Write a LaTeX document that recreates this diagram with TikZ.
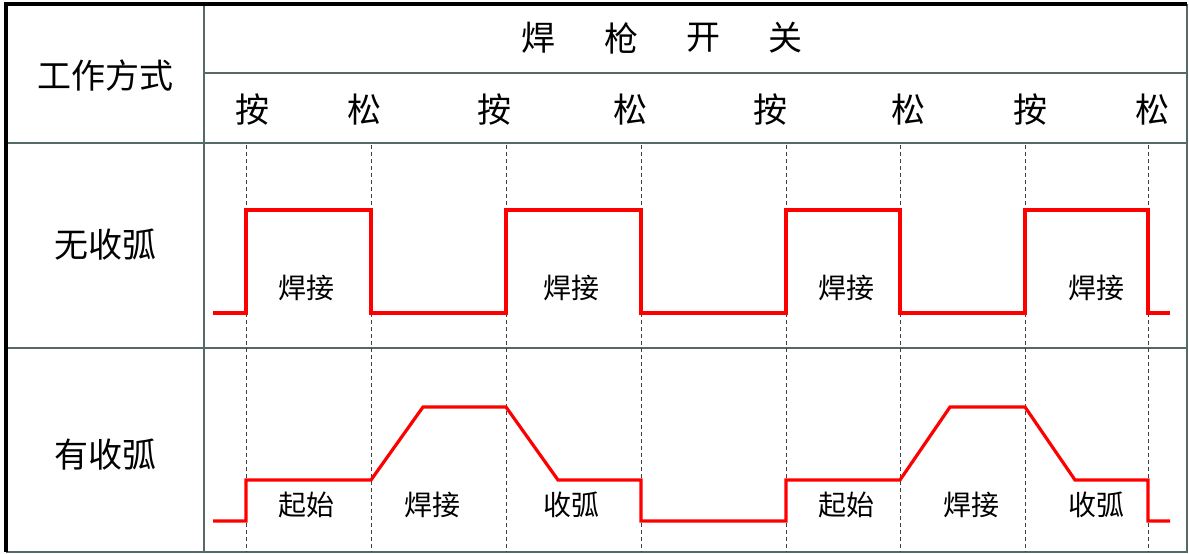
\documentclass[tikz,border=0pt]{standalone}
\usepackage{fontspec}
\newfontfamily\cjk{Noto Sans CJK SC}
\definecolor{gridc}{RGB}{85,105,105}
\definecolor{sig}{RGB}{255,0,0}
\tikzset{
  grid/.style={draw=gridc, line width=1.6pt},
  frame/.style={draw=black, line width=3.5pt},
  guide/.style={draw=black!75, line width=0.8pt, dash pattern=on 4pt off 3pt},
  wave/.style={draw=sig, line width=3.2pt, line join=miter},
  big/.style={font=\cjk\fontsize{34}{34}\selectfont, inner sep=0pt},
  small/.style={font=\cjk\fontsize{28}{28}\selectfont, inner sep=0pt}
}
\begin{document}
\begin{tikzpicture}[x=1pt,y=-1pt]
\useasboundingbox (0,0) rectangle (1189,554);
% grid
\coordinate (tl) at (6,4);
\coordinate (tr) at (1187,4);
\coordinate (bl) at (6,552);
\coordinate (br) at (1187,552);
\draw[grid] (204,4) -- (204,552);
\draw[grid] (204,73) -- (1187,73);
\draw[grid] (6,143) -- (1187,143);
\draw[grid] (6,348) -- (1187,348);
\draw[grid] (bl) -- (br) -- (tr);
\draw[frame] (bl) -- (tl) -- (tr);
% guides
\foreach \x [count=\i] in {246,371,506,641,786,900,1025,1148} {
  \coordinate (g\i t) at (\x,145);
  \coordinate (g\i b) at (\x,552);
  \draw[guide] (g\i t) -- (g\i b);
}
% headers
\node[big] (mode) at (105,76) {工作方式};
\node[big] (h1) at (538,38) {焊};
\node[big] (h2) at (621,38) {枪};
\node[big] (h3) at (703,38) {开};
\node[big] (h4) at (785,38) {关};
\foreach \x/\t [count=\i] in {252/按,364/松,494/按,630/松,770/按,908/松,1030/按,1152/松} {
  \node[big] (k\i) at (\x,110) {\t};
}
\node[big] (r1) at (105,245) {无收弧};
\node[big] (r2) at (105,455) {有收弧};
% row 1 waveform
\coordinate (a0) at (213,313);
\draw[wave] (a0) -- (246,313) -- (246,210) -- (371,210) -- (371,313) -- (506,313) -- (506,210)
  -- (641,210) -- (641,313) -- (786,313) -- (786,210) -- (900,210) -- (900,313) -- (1025,313)
  -- (1025,210) -- (1148,210) -- (1148,313) -- (1170,313);
\node[small] (w1) at (306,288) {焊接};
\node[small] (w2) at (571,288) {焊接};
\node[small] (w3) at (846,288) {焊接};
\node[small] (w4) at (1096,288) {焊接};
% row 2 waveform
\coordinate (b0) at (213,521);
\draw[wave] (b0) -- (246,521) -- (246,480) -- (371,480) -- (423,407) -- (506,407) -- (558,480)
  -- (641,480) -- (641,521) -- (786,521) -- (786,480) -- (900,480) -- (950,407) -- (1025,407)
  -- (1075,480) -- (1148,480) -- (1148,521) -- (1170,521);
\node[small] (s1) at (306,505) {起始};
\node[small] (s2) at (432,505) {焊接};
\node[small] (s3) at (571,505) {收弧};
\node[small] (s4) at (846,505) {起始};
\node[small] (s5) at (971,505) {焊接};
\node[small] (s6) at (1096,505) {收弧};
\end{tikzpicture}
\end{document}
